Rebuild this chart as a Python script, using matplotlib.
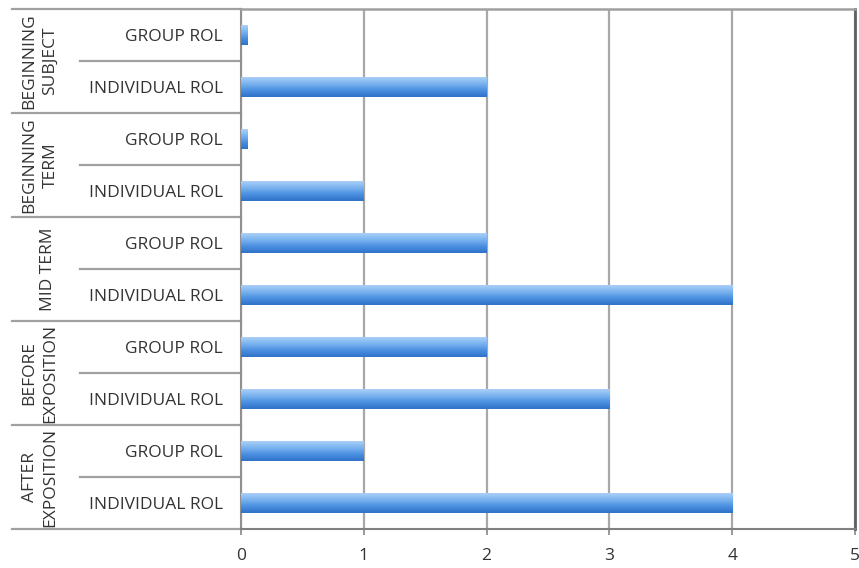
import numpy as np
import matplotlib.pyplot as plt
from matplotlib.colors import LinearSegmentedColormap
from matplotlib.transforms import blended_transform_factory

# bottom to top
groups = ["AFTER\nEXPOSITION", "BEFORE\nEXPOSITION", "MID TERM", "BEGINNING\nTERM", "BEGINNING\nSUBJECT"]
roles = ["INDIVIDUAL ROL", "GROUP ROL"]
values = [4, 1,      # after exposition
          3, 2,      # before exposition
          4, 2,      # mid term
          1, 0.05,   # beginning term
          2, 0.05]   # beginning subject
xticks = [0, 1, 2, 3, 4, 5]

plt.rcParams['font.family'] = ['Open Sans', 'DejaVu Sans']

W, H = 859, 568
fig = plt.figure(figsize=(W / 100, H / 100), dpi=100)
x0, x1, y0, y1 = 241, 855, 9, 529
ax = fig.add_axes([x0 / W, 1 - y1 / H, (x1 - x0) / W, (y1 - y0) / H])

ypos = np.arange(len(values))
labels = [roles[i % 2] for i in range(len(values))]
bars = ax.barh(ypos, values, height=0.38, color='none', zorder=3)

cmap = LinearSegmentedColormap.from_list('bar', ['#2f73c9', '#4a8fe0', '#7ab3f0', '#a9cff7'])
grad = np.linspace(0, 1, 64).reshape(-1, 1)
for b in bars:
    ax.imshow(grad, extent=[b.get_x(), b.get_x() + b.get_width(), b.get_y(), b.get_y() + b.get_height()],
              aspect='auto', cmap=cmap, origin='lower', zorder=3, interpolation='bicubic')

ax.set_xlim(0, 5)
ax.set_ylim(-0.5, len(values) - 0.5)
ax.set_xticks(xticks)
ax.set_xticklabels([str(t) for t in xticks], fontsize=12.5, color='#333333')
ax.tick_params(axis='x', length=4, width=1.2, color='#888888', pad=10)
ax.set_yticks(ypos)
ax.set_yticklabels(labels, fontsize=12.5, color='#333333')
ax.tick_params(axis='y', length=0, pad=13)
ax.grid(axis='x', color='#a8a8a8', linewidth=1.6, zorder=1)
ax.set_axisbelow(True)

ax.spines['left'].set_color('#909090')
ax.spines['left'].set_linewidth(1.5)
ax.spines['bottom'].set_color('#808080')
ax.spines['bottom'].set_linewidth(1.5)
ax.spines['top'].set_color('#a0a0a0')
ax.spines['top'].set_linewidth(1.8)
ax.spines['right'].set_color('#606060')
ax.spines['right'].set_linewidth(2)

trans = blended_transform_factory(ax.transAxes, ax.transData)
pw = x1 - x0
full_left = (12 - x0) / pw
inner_left = (80 - x0) / pw
for k in range(len(groups) + 1):
    yb = -0.5 + 2 * k
    ax.plot([full_left, 0], [yb, yb], transform=trans, color='#a0a0a0', lw=1.6, clip_on=False)
for k in range(len(groups)):
    yb = 0.5 + 2 * k
    ax.plot([inner_left, 0], [yb, yb], transform=trans, color='#a0a0a0', lw=1.6, clip_on=False)

for k, g in enumerate(groups):
    xc = (48 - x0) / pw if '\n' not in g else (40 - x0) / pw
    ax.text(xc, 2 * k + 0.5, g, transform=trans, rotation=90, ha='center', va='center',
            fontsize=12.5, color='#333333', linespacing=1.4, multialignment='center')

fig.savefig('out.png', dpi=100)
